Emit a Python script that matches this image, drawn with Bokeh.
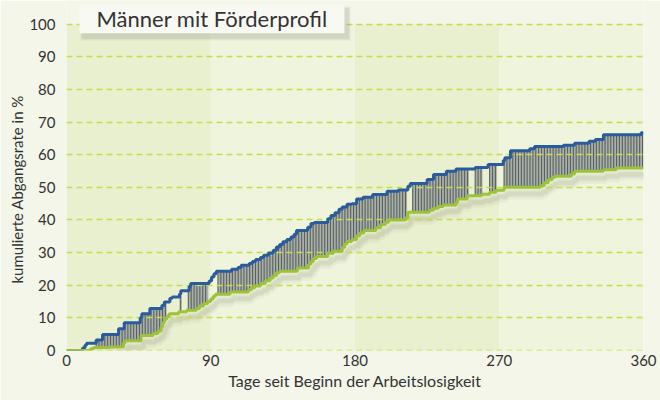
import numpy as np
from bokeh.plotting import figure
from bokeh.models import Range1d, FixedTicker, BoxAnnotation, Label, Title
from bokeh.embed import file_html
from bokeh.resources import INLINE

# ---------------- data ----------------
title_text = "Männer mit Förderprofil"
x_label = "Tage seit Beginn der Arbeitslosigkeit"
y_label = "kumulierte Abgangsrate in %"
x_ticks = [0, 90, 180, 270, 360]
y_ticks = [0, 10, 20, 30, 40, 50, 60, 70, 80, 90, 100]

# upper curve (blue): change points (day, cumulative rate %)
blue_days = [0, 10, 11.5, 12.5, 18.5, 22.5, 32.5, 36, 46, 47, 52, 59.5, 61, 64.5, 66,
             70.5, 71.3, 76.5, 77.5, 89, 90.5, 92, 93.5, 103, 107, 109, 114, 116, 118,
             121, 123, 126, 129, 131, 133, 135, 137.5, 140, 142, 143.5, 150.5, 152.5,
             154.5, 163, 165, 167.5, 170, 172, 175, 178, 181, 185, 191, 200, 207, 213,
             214.5, 225, 229, 237, 243, 255, 263, 272.5, 273.5, 277, 289, 292, 310, 317,
             326, 330, 335, 358.5, 360]
blue_vals = [0, 0.8, 1.6, 2.2, 3.2, 4.9, 6.7, 8.5, 10.0, 11.3, 12.9, 13.8, 14.9, 16.0,
             16.4, 17.3, 18.3, 19.6, 20.5, 21.3, 22.5, 23.5, 24.3, 24.9, 25.4, 26.1, 26.7,
             27.3, 27.9, 28.5, 29.2, 29.9, 30.7, 31.7, 32.5, 33.3, 34.0, 34.8, 35.6, 36.8,
             37.8, 38.9, 39.2, 40.4, 41.4, 42.2, 43.3, 44.0, 44.8, 45.0, 46.4, 47.0, 47.8,
             48.8, 49.2, 50.3, 51.2, 52.4, 53.9, 54.9, 55.6, 56.1, 57.0, 58.2, 59.1, 61.2,
             61.8, 62.5, 62.9, 63.5, 64.1, 64.7, 66.1, 66.7, 66.7]

# lower curve (green)
green_days = [0, 15, 17, 27, 35.5, 36.5, 46.5, 54, 57, 59, 60, 61, 62.5, 64, 70, 75, 81,
              83, 85.5, 88, 90, 91.5, 93, 102, 113.5, 115.5, 117.5, 121, 124, 127, 129,
              131, 133, 144, 151, 152.5, 154, 156, 163, 166.5, 172, 173.5, 175, 178, 181,
              183, 185.5, 193, 196, 199, 201, 211.5, 213, 226.5, 229, 232, 235, 243, 244,
              250, 259, 264, 268, 273, 295.5, 298, 300.5, 303, 305, 315, 317, 335, 343, 360]
green_vals = [0, 0.5, 0.9, 1.1, 2.2, 3.0, 4.6, 5.2, 6.0, 7.2, 8.5, 9.6, 10.5, 11.3, 11.9,
              12.3, 12.9, 13.6, 14.4, 15.0, 15.8, 16.6, 17.2, 17.9, 18.6, 19.2, 19.8, 20.5,
              21.4, 22.2, 23.0, 23.8, 24.3, 25.3, 26.4, 27.3, 28.2, 28.8, 29.8, 30.4, 31.6,
              32.6, 33.4, 34.0, 35.2, 36.0, 36.8, 37.6, 38.6, 39.3, 40.0, 40.6, 42.4, 43.0,
              43.6, 44.1, 44.6, 45.3, 46.4, 47.4, 47.9, 48.5, 49.1, 50.0, 50.5, 51.4, 52.3,
              53.1, 53.4, 54.1, 54.9, 55.4, 55.9, 55.9]

# day ranges where the gap between the curves is shaded
hatch_from = [18.5, 71, 76, 94.5, 216, 255, 264, 273]
hatch_to = [62.5, 72, 88.5, 212.5, 251, 259.5, 268.5, 360]

# background bands (quarters of a year)
band_left = [0, 90, 180, 270]
band_right = [90, 180, 270, 360]

# ---------------- style ----------------
BG = "#f4f6ea"
BAND_COLORS = ["#e9f0d0", "#eff5dc", "#e9f0d0", "#eff5dc"]
GRID = "#c6dc48"
BLUE = "#2a5b9c"
GREEN = "#9cc23a"
TXT = "#333333"
FONT = "Lato"

# frame spans the whole height above the x axis; the value axis tops out at 100
p = figure(width=660, height=400, output_backend="svg", toolbar_location=None,
           x_range=Range1d(0, 360), y_range=Range1d(0, 107.26),
           min_border_left=66, min_border_right=17, min_border_top=0, min_border_bottom=50,
           background_fill_color=BG, border_fill_color=BG, outline_line_color=None)

p.quad(left=band_left, right=band_right, bottom=0, top=100,
       fill_color=BAND_COLORS, line_color=None)

def step_at(days, vals, x):
    idx = np.searchsorted(np.asarray(days), x, side="right") - 1
    return np.asarray(vals)[np.clip(idx, 0, len(vals) - 1)]

# soft shadows under the curves
for w, a in [(12, 0.05), (7, 0.07), (4, 0.08)]:
    p.step(np.asarray(green_days) + 1.5, np.asarray(green_vals) - 2.0, mode="after",
           line_width=w, line_color="#6b6b50", line_alpha=a)

# shaded gap between curves
for a, b in zip(hatch_from, hatch_to):
    xs = np.arange(a, b + 0.01, 0.25)
    p.varea(x=xs, y1=step_at(green_days, green_vals, xs), y2=step_at(blue_days, blue_vals, xs),
            fill_color="#a9b0a8", fill_alpha=1.0)
    hx = np.arange(a, b + 0.01, 1.8)
    p.segment(x0=hx, x1=hx, y0=step_at(green_days, green_vals, hx),
              y1=step_at(blue_days, blue_vals, hx), line_color="#59605f", line_width=1.1)

# dashed grid lines
p.ygrid.grid_line_color = None
p.xgrid.grid_line_color = None
p.hspan(y=y_ticks, line_color=GRID, line_width=1.5, line_dash="6 4")

p.step(blue_days, blue_vals, mode="after", line_color=BLUE, line_width=3)
p.step(green_days, green_vals, mode="after", line_color=GREEN, line_width=3)

# axes
for ax in (p.xaxis[0], p.yaxis[0]):
    ax.axis_line_color = None
    ax.major_tick_line_color = None
    ax.minor_tick_line_color = None
    ax.major_tick_out = 0
    ax.major_tick_in = 0
    ax.major_label_text_font = FONT
    ax.major_label_text_font_size = "15px"
    ax.major_label_text_color = TXT

p.xaxis.ticker = FixedTicker(ticks=x_ticks)
p.yaxis.ticker = FixedTicker(ticks=y_ticks)
p.xaxis.axis_label = x_label
p.xaxis.axis_label_text_font = FONT
p.xaxis.axis_label_text_font_size = "16px"
p.xaxis.axis_label_text_font_style = "normal"
p.xaxis.axis_label_text_color = TXT
p.xaxis.major_label_standoff = 4
p.xaxis.axis_label_standoff = 2
p.yaxis.major_label_standoff = 11

# y-axis caption, starting near the foot of the value axis
p.add_layout(Title(text=y_label, align="left", offset=67, standoff=2,
                   text_font=FONT, text_font_size="15px", text_font_style="normal",
                   text_color=TXT), "left")

# title box with shadow
for d, a in [(3.0, 0.06), (2.0, 0.08), (1.0, 0.10)]:
    p.add_layout(BoxAnnotation(left=8.1 + 2.2 - d * 0.6, right=173.4 + 2.2 + d * 0.6,
                               bottom=97.2 - 1.4 - d * 0.3, top=106.0 - 1.4 + d * 0.3,
                               fill_color="#707060", fill_alpha=a, line_color=None))
p.add_layout(BoxAnnotation(left=8.1, right=173.4, bottom=97.2, top=106.0,
                           fill_color="#f8f9f2", fill_alpha=1.0, line_color=None))
p.add_layout(Label(x=90.8, y=101.6, text=title_text, text_align="center",
                   text_baseline="middle", text_font=FONT, text_font_size="22px",
                   text_color=TXT))

html = file_html(p, INLINE)
html = html.replace("<body>", '<body style="margin:0;background:%s;">' % BG, 1)
open("out.html", "w").write(html)
